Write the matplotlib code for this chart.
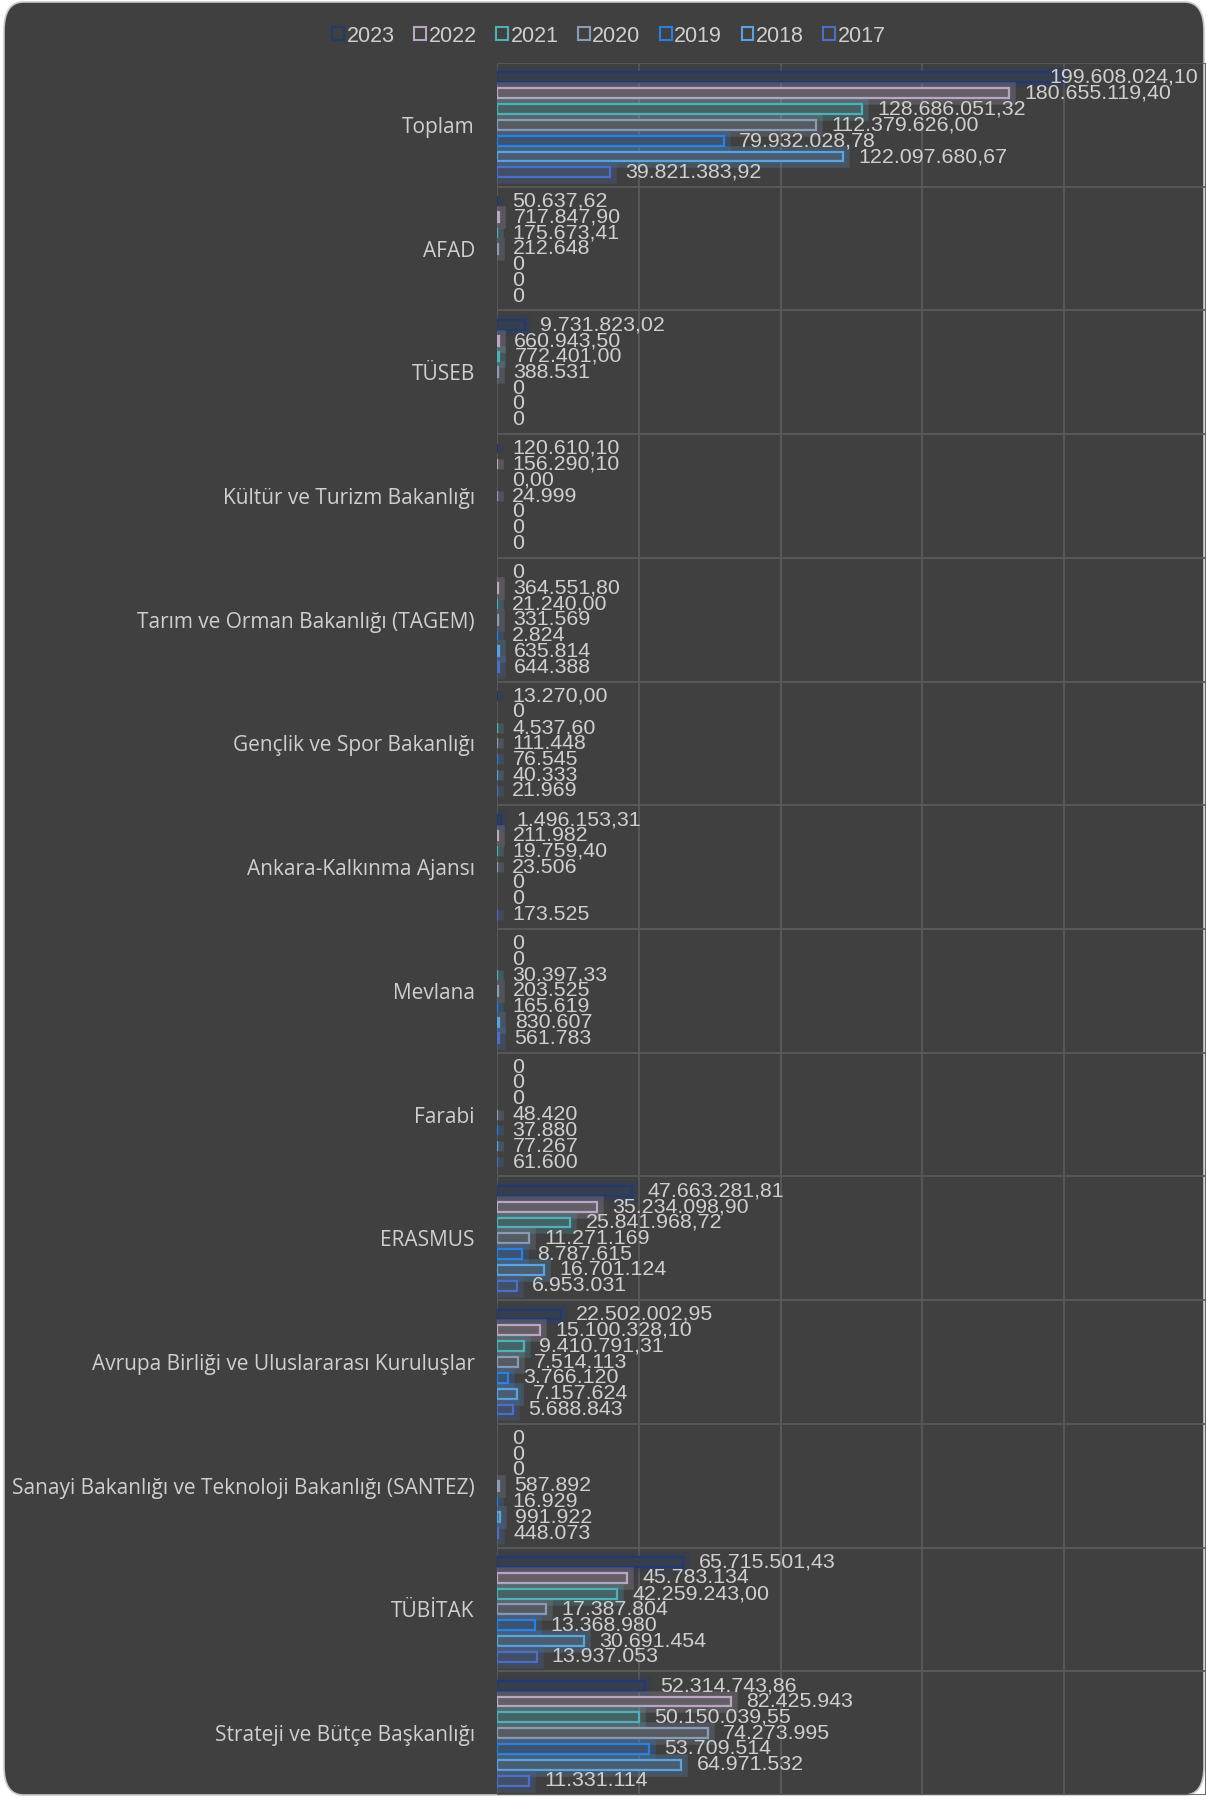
import matplotlib
matplotlib.use("Agg")
import matplotlib.pyplot as plt
import matplotlib.patheffects as pe
from matplotlib.patches import Patch, FancyBboxPatch
from matplotlib.colors import to_rgb
import numpy as np

# categories, top to bottom
categories = ["Toplam", "AFAD", "TÜSEB", "Kültür ve Turizm Bakanlığı",
              "Tarım ve Orman Bakanlığı (TAGEM)", "Gençlik ve Spor Bakanlığı",
              "Ankara-Kalkınma Ajansı", "Mevlana", "Farabi", "ERASMUS",
              "Avrupa Birliği ve Uluslararası Kuruluşlar",
              "Sanayi Bakanlığı ve Teknoloji Bakanlığı (SANTEZ)",
              "TÜBİTAK", "Strateji ve Bütçe Başkanlığı"]

years = ["2023", "2022", "2021", "2020", "2019", "2018", "2017"]

# values as printed on the chart (Turkish number format)
v2023 = ["199.608.024,10", "50.637,62", "9.731.823,02", "120.610,10", "0", "13.270,00",
         "1.496.153,31", "0", "0", "47.663.281,81", "22.502.002,95", "0",
         "65.715.501,43", "52.314.743,86"]
v2022 = ["180.655.119,40", "717.847,90", "660.943,50", "156.290,10", "364.551,80", "0",
         "211.982", "0", "0", "35.234.098,90", "15.100.328,10", "0",
         "45.783.134", "82.425.943"]
v2021 = ["128.686.051,32", "175.673,41", "772.401,00", "0,00", "21.240,00", "4.537,60",
         "19.759,40", "30.397,33", "0", "25.841.968,72", "9.410.791,31", "0",
         "42.259.243,00", "50.150.039,55"]
v2020 = ["112.379.626,00", "212.648", "388.531", "24.999", "331.569", "111.448",
         "23.506", "203.525", "48.420", "11.271.169", "7.514.113", "587.892",
         "17.387.804", "74.273.995"]
v2019 = ["79.932.028,78", "0", "0", "0", "2.824", "76.545",
         "0", "165.619", "37.880", "8.787.615", "3.766.120", "16.929",
         "13.368.980", "53.709.514"]
v2018 = ["122.097.680,67", "0", "0", "0", "635.814", "40.333",
         "0", "830.607", "77.267", "16.701.124", "7.157.624", "991.922",
         "30.691.454", "64.971.532"]
v2017 = ["39.821.383,92", "0", "0", "0", "644.388", "21.969",
         "173.525", "561.783", "61.600", "6.953.031", "5.688.843", "448.073",
         "13.937.053", "11.331.114"]
series = [v2023, v2022, v2021, v2020, v2019, v2018, v2017]

colors = ["#223a6e", "#b9a6c2", "#4fb0b8", "#8a9bb4", "#2a7fe0", "#5ba3e0", "#4a6fc4"]

def parse(s):
    return float(s.replace(".", "").replace(",", "."))

bg = "#404040"
txt = "#cfcfcf"
W, H = 1206, 1798

fig = plt.figure(figsize=(W / 100, H / 100), dpi=100)
fig.patch.set_facecolor("white")
frame = FancyBboxPatch((4 / W, 3 / H), (W - 6) / W, (H - 5) / H,
                       boxstyle="round,pad=0,rounding_size=0.016",
                       transform=fig.transFigure, facecolor=bg,
                       edgecolor="#c8c8c8", linewidth=1.2, zorder=-10)
fig.patches.append(frame)

ax = fig.add_axes([497 / W, 1 - 1795 / H, (W - 497) / W, (1795 - 63) / H])
ax.set_facecolor("none")
ax.set_zorder(1)

ncat = len(categories)
y = np.arange(ncat)
step = 0.128
bh = 0.08
bgc = np.array(to_rgb(bg))

labels = []
for j, (vals, col) in enumerate(zip(series, colors)):
    nums = np.array([parse(s) for s in vals])
    c = np.array(to_rgb(col))
    fill = 0.3 * c + 0.7 * bgc
    yy = y + (j - 3) * step
    bars = ax.barh(yy, nums, height=bh, color=fill, edgecolor=col,
                   linewidth=1.6, zorder=3)
    for b, v in zip(bars, nums):
        if v == 0:
            b.set_edgecolor("none")
        else:
            b.set_path_effects([pe.Stroke(linewidth=9, foreground=col, alpha=0.22),
                                pe.Normal()])
    for yi, v, s in zip(yy, nums, vals):
        t = ax.annotate(s, xy=(v, yi), xytext=(11, 0), textcoords="offset points",
                        ha="left", va="center", fontsize=15.4, color=txt,
                        family="Liberation Sans", zorder=5, annotation_clip=False)
        labels.append(t)

ax.set_xlim(0, 250e6)
ax.set_ylim(ncat - 0.5, -0.5)
ax.set_xticks(np.arange(0, 250e6 + 1, 50e6))
ax.set_yticks(y)
ax.set_yticklabels(categories, fontsize=15, color=txt, family="Open Sans")
ax.set_yticks(np.arange(-0.5, ncat, 1), minor=True)
ax.tick_params(axis="y", which="both", length=0, pad=16)
ax.tick_params(axis="x", length=0, labelbottom=False)
ax.grid(axis="x", which="major", color="#5a5a5a", linewidth=1.3, zorder=0)
ax.grid(axis="y", which="minor", color="#5a5a5a", linewidth=1.3, zorder=0)
ax.grid(axis="y", which="major", visible=False)
for sp in ax.spines.values():
    sp.set_visible(False)

# keep labels inside the frame
fig.canvas.draw()
r = fig.canvas.get_renderer()
for t in labels:
    bb = t.get_window_extent(r)
    over = bb.x1 - (W - 8)
    if over > 0:
        t.xyann = (11 - over * 72 / 100, 0)

handles = [Patch(facecolor="none", edgecolor=c, linewidth=1.5) for c in colors]
leg = fig.legend(handles, years, loc="center", bbox_to_anchor=(0.505, 1 - 36 / H),
                 ncol=7, frameon=False, fontsize=15.5, handlelength=0.55,
                 handleheight=0.55, handletextpad=0.12, columnspacing=0.9)
for t in leg.get_texts():
    t.set_color(txt)
    t.set_family("Liberation Sans")

fig.savefig("out.png", dpi=100, facecolor="white")
